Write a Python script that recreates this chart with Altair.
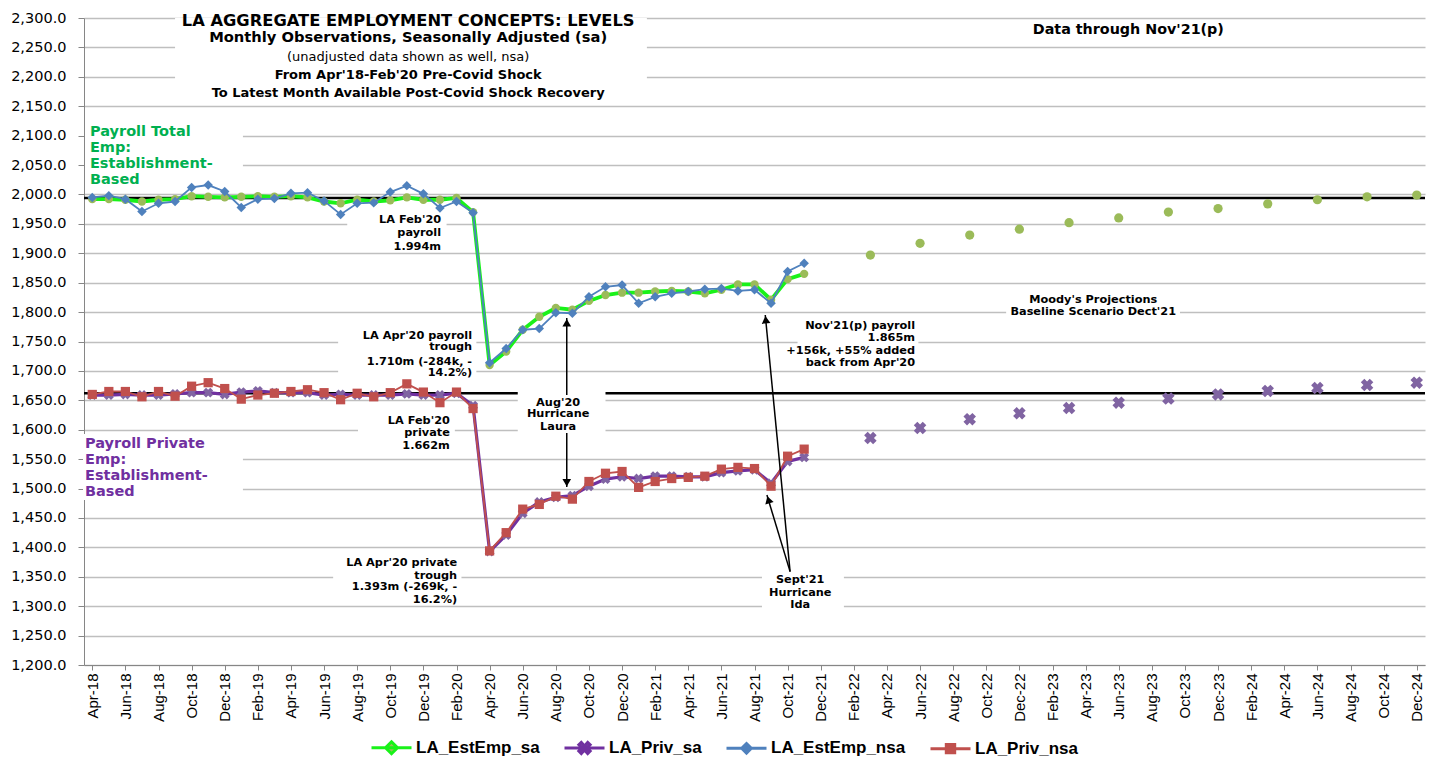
import altair as alt
import pandas as pd

# ---------------- data ----------------
tick_labels = ["Apr-18", "Jun-18", "Aug-18", "Oct-18", "Dec-18", "Feb-19", "Apr-19", "Jun-19",
               "Aug-19", "Oct-19", "Dec-19", "Feb-20", "Apr-20", "Jun-20", "Aug-20", "Oct-20",
               "Dec-20", "Feb-21", "Apr-21", "Jun-21", "Aug-21", "Oct-21", "Dec-21", "Feb-22",
               "Apr-22", "Jun-22", "Aug-22", "Oct-22", "Dec-22", "Feb-23", "Apr-23", "Jun-23",
               "Aug-23", "Oct-23", "Dec-23", "Feb-24", "Apr-24", "Jun-24", "Aug-24", "Oct-24",
               "Dec-24"]
y_ticks = list(range(1200, 2301, 50))

obs_months = [p.strftime("%b-%y") for p in pd.period_range("2018-04", "2021-11", freq="M")]

est_emp_sa = [1992, 1992, 1991, 1988, 1991, 1992, 1997, 1996, 1995, 1996, 1997, 1996,
              1997, 1995, 1988, 1985, 1991, 1988, 1990, 1995, 1991, 1991, 1994, 1970,
              1710, 1733, 1770, 1792, 1807, 1804, 1819, 1829, 1833, 1833, 1835, 1836,
              1835, 1832, 1838, 1847, 1847, 1821, 1856, 1865]
priv_sa = [1659, 1659, 1660, 1659, 1659, 1661, 1663, 1663, 1660, 1664, 1666, 1663,
           1663, 1663, 1659, 1660, 1659, 1659, 1659, 1661, 1659, 1659, 1662, 1641,
           1393, 1421, 1458, 1477, 1485, 1488, 1504, 1516, 1520, 1517, 1521, 1521,
           1520, 1520, 1527, 1530, 1532, 1509, 1546, 1553]
est_emp_nsa = [1995, 1998, 1992, 1971, 1985, 1988, 2012, 2016, 2005, 1978, 1992, 1993,
               2002, 2003, 1989, 1966, 1985, 1986, 2004, 2015, 2001, 1977, 1988, 1969,
               1714, 1738, 1770, 1772, 1799, 1798, 1826, 1843, 1846, 1815, 1826, 1832,
               1835, 1839, 1840, 1836, 1838, 1815, 1869, 1883]
priv_nsa = [1660, 1665, 1665, 1656, 1665, 1657, 1674, 1680, 1670, 1652, 1659, 1662,
            1665, 1668, 1663, 1651, 1662, 1656, 1663, 1678, 1664, 1646, 1664, 1636,
            1394, 1425, 1465, 1473, 1487, 1482, 1512, 1526, 1529, 1502, 1512, 1517,
            1519, 1521, 1533, 1536, 1534, 1504, 1555, 1567]

proj_months = ["Mar-22", "Jun-22", "Sep-22", "Dec-22", "Mar-23", "Jun-23",
               "Sep-23", "Dec-23", "Mar-24", "Jun-24", "Sep-24", "Dec-24"]
est_emp_proj = [1897, 1917, 1931, 1941, 1952, 1960, 1970, 1976, 1984, 1991, 1996, 1999]
priv_proj = [1586, 1603, 1618, 1628, 1637, 1646, 1653, 1660, 1666, 1671, 1676, 1680]

ref_levels = [1994, 1662]

series_names = ["LA_EstEmp_sa", "LA_Priv_sa", "LA_EstEmp_nsa", "LA_Priv_nsa"]

# ---------------- helpers ----------------
start = pd.Period("2018-04", freq="M")


def midx(label):
    p = pd.Period(pd.to_datetime(label, format="%b-%y"), freq="M")
    return (p - start).n


def sdf(months, values):
    return pd.DataFrame({"idx": [midx(m) for m in months], "value": values})


label_expr = "[" + ",".join("'%s'" % t for t in tick_labels) + "][datum.value / 2]"

X = alt.X("idx:Q",
          scale=alt.Scale(domain=[-0.5, 80.5], nice=False, zero=False),
          axis=alt.Axis(values=list(range(0, 81, 2)), labelExpr=label_expr, labelAngle=270,
                        labelFont="Liberation Sans", labelFontSize=15, labelColor="black",
                        tickSize=5, tickColor="#868686", domainColor="#868686", grid=False,
                        labelPadding=3, labelOverlap=False, labelFlush=False),
          title=None)
Y = alt.Y("value:Q",
          scale=alt.Scale(domain=[1200, 2300], nice=False, zero=False),
          axis=alt.Axis(values=y_ticks, format=",.1f", labelFont="DejaVu Sans",
                        labelFontSize=14.5, labelColor="black", tickSize=6,
                        tickColor="#868686", domainColor="#868686", gridColor="#BFBFBF",
                        gridWidth=1.3, labelPadding=12, labelFlush=False),
          title=None)

# ---------------- annotation layout (data coordinates) ----------------
boxes = pd.DataFrame({
    "idx":    [5.0, -0.44, -0.56, 15.4, 14.85, 16.05, 14.55, 25.7, 40.45, 42.6, 55.2],
    "idx2":   [33.5, 9.1, 9.1, 21.4, 23.2, 21.9, 22.3, 31.0, 45.4, 49.9, 65.7],
    "value":  [2300, 2123, 1592.7, 1970, 1771.3, 1628.5, 1395.5, 1669, 1358, 1790, 1834],
    "value2": [2160.6, 2011, 1480.5, 1905.6, 1688, 1562, 1303.7, 1594.5, 1292, 1705, 1790],
})

center_bold = pd.DataFrame([
    ("LA AGGREGATE EMPLOYMENT CONCEPTS: LEVELS", 19.08, 2295.4, 16.3),
    ("Monthly Observations, Seasonally Adjusted (sa)", 19.08, 2266.5, 14.7),
    ("From Apr'18-Feb'20 Pre-Covid Shock", 19.08, 2203.6, 13),
    ("To Latest Month Available Post-Covid Shock Recovery", 19.08, 2173.0, 13),
    ("Data through Nov'21(p)", 62.58, 2279.6, 14.3),
    ("Aug'20", 28.14, 1646, 11.3),
    ("Hurricane", 28.14, 1626.3, 11.3),
    ("Laura", 28.14, 1605.2, 11.3),
    ("Sept'21", 42.76, 1344.5, 11.3),
    ("Hurricane", 42.76, 1323, 11.3),
    ("Ida", 42.76, 1302, 11.3),
    ("Moody's Projections", 60.46, 1820.6, 11.3),
    ("Baseline Scenario Dect'21", 60.46, 1800.2, 11.3),
], columns=["text", "idx", "value", "fs"])

center_normal = pd.DataFrame([
    ("(unadjusted data shown as well, nsa)", 19.08, 2233.7, 13),
], columns=["text", "idx", "value", "fs"])

right_bold = pd.DataFrame([
    ("LA Feb'20", 21.07, 1956.6), ("payroll", 21.07, 1934.5), ("1.994m", 21.07, 1910.7),
    ("LA Apr'20 payroll", 22.94, 1759.4), ("trough", 22.94, 1740.5),
    ("1.710m (-284k, -", 22.94, 1715.7), ("14.2%)", 22.94, 1697),
    ("LA Feb'20", 21.6, 1615.4), ("private", 21.6, 1594.3), ("1.662m", 21.6, 1573),
    ("LA Apr'20 private", 22.04, 1372.9), ("trough", 22.04, 1351.4),
    ("1.393m (-269k, -", 22.04, 1332.2), ("16.2%)", 22.04, 1310.5),
    ("Nov'21(p) payroll", 49.7, 1776.4), ("1.865m", 49.7, 1755.5),
    ("+156k, +55% added", 49.7, 1733.9), ("back from Apr'20", 49.7, 1714),
], columns=["text", "idx", "value"])

left_bold = pd.DataFrame([
    ("Payroll Total", -0.14, 2106, "#00B050"), ("Emp:", -0.14, 2078.5, "#00B050"),
    ("Establishment-", -0.14, 2051.3, "#00B050"), ("Based", -0.14, 2024.5, "#00B050"),
    ("Payroll Private", -0.44, 1575.8, "#7030A0"), ("Emp:", -0.44, 1548.6, "#7030A0"),
    ("Establishment-", -0.44, 1521.4, "#7030A0"), ("Based", -0.44, 1494.2, "#7030A0"),
], columns=["text", "idx", "value", "col"])

arrows = pd.DataFrame({
    "idx":    [28.66, 28.66, 42.15, 42.15],
    "value":  [1659, 1594.5, 1358.7, 1358.7],
    "idx2":   [28.66, 28.66, 40.65, 40.75],
    "value2": [1790, 1502.6, 1795, 1489],
})
heads = pd.DataFrame({
    "idx":   [28.66, 28.66, 40.68, 40.84],
    "value": [1782, 1510, 1787, 1481],
    "ang":   [0, 180, 354.4, 343.1],
})

# ---------------- layers ----------------
layers = []

layers.append(alt.Chart(pd.DataFrame({"value": ref_levels})).mark_rule(
    color="black", strokeWidth=2.3).encode(y=Y))

layers.append(alt.Chart(boxes).mark_rect(fill="white", stroke="white", strokeWidth=0).encode(
    x=X, x2="idx2:Q", y=Y, y2="value2:Q"))

d_est_sa = sdf(obs_months, est_emp_sa)
d_priv_sa = sdf(obs_months, priv_sa)
d_est_nsa = sdf(obs_months, est_emp_nsa)
d_priv_nsa = sdf(obs_months, priv_nsa)

layers.append(alt.Chart(d_est_sa).mark_line(color="#19F219", strokeWidth=3.8).encode(x=X, y=Y))
layers.append(alt.Chart(d_est_sa).mark_point(shape="circle", filled=True, size=70,
                                             color="#9BBB59", opacity=1).encode(x=X, y=Y))
layers.append(alt.Chart(d_priv_sa).mark_line(color="#7030A0", strokeWidth=3.2).encode(x=X, y=Y))
layers.append(alt.Chart(d_priv_sa).mark_point(shape="cross", angle=45, filled=True, size=100,
                                              color="#8064A2", opacity=1).encode(x=X, y=Y))
layers.append(alt.Chart(d_est_nsa).mark_line(color="#4F81BD", strokeWidth=1.8).encode(x=X, y=Y))
layers.append(alt.Chart(d_est_nsa).mark_point(shape="diamond", filled=True, size=90,
                                              color="#4F81BD", opacity=1).encode(x=X, y=Y))
layers.append(alt.Chart(d_priv_nsa).mark_line(color="#C0504D", strokeWidth=1.8).encode(x=X, y=Y))
layers.append(alt.Chart(d_priv_nsa).mark_point(shape="square", filled=True, size=85,
                                               color="#C0504D", opacity=1).encode(x=X, y=Y))

layers.append(alt.Chart(sdf(proj_months, est_emp_proj)).mark_point(
    shape="circle", filled=True, size=85, color="#9BBB59", opacity=1).encode(x=X, y=Y))
layers.append(alt.Chart(sdf(proj_months, priv_proj)).mark_point(
    shape="cross", angle=45, filled=True, size=160, color="#8064A2", opacity=1).encode(x=X, y=Y))

# arrows
layers.append(alt.Chart(arrows).mark_rule(color="black", strokeWidth=1.5).encode(
    x=X, x2="idx2:Q", y=Y, y2="value2:Q"))
layers.append(alt.Chart(heads).mark_point(shape="triangle-up", filled=True, size=75,
                                          color="black", opacity=1).encode(
    x=X, y=Y, angle=alt.Angle("ang:Q", scale=None)))

# text
layers.append(alt.Chart(center_bold).mark_text(
    align="center", baseline="middle", font="DejaVu Sans", fontWeight="bold", color="black").encode(
    x=X, y=Y, text="text:N", size=alt.Size("fs:Q", scale=None)))
layers.append(alt.Chart(center_normal).mark_text(
    align="center", baseline="middle", font="DejaVu Sans", color="black").encode(
    x=X, y=Y, text="text:N", size=alt.Size("fs:Q", scale=None)))
layers.append(alt.Chart(right_bold).mark_text(
    align="right", baseline="middle", font="DejaVu Sans", fontWeight="bold", fontSize=11.3,
    color="black").encode(x=X, y=Y, text="text:N"))
layers.append(alt.Chart(left_bold).mark_text(
    align="left", baseline="middle", font="DejaVu Sans", fontWeight="bold", fontSize=14.5).encode(
    x=X, y=Y, text="text:N", color=alt.Color("col:N", scale=None)))

# legend (drawn from an off-domain, clipped layer)
legend_paths = [
    "M-1,0L1,0M0,-0.3L0.3,0L0,0.3L-0.3,0Z",
    "M-1,0L1,0M0,-0.1L0.16,-0.28L0.28,-0.16L0.1,0L0.28,0.16L0.16,0.28L0,0.1L-0.16,0.28L-0.28,0.16L-0.1,0L-0.28,-0.16L-0.16,-0.28Z",
    "M-1,0L1,0M0,-0.24L0.24,0L0,0.24L-0.24,0Z",
    "M-1,0L1,0M-0.21,-0.21L0.21,-0.21L0.21,0.21L-0.21,0.21Z",
]
leg = alt.Legend(orient="none", legendX=286, legendY=708, direction="horizontal",
                 symbolSize=1600, labelFont="Liberation Sans", labelFontSize=17,
                 labelFontWeight="bold", labelColor="black", columnPadding=18,
                 labelOffset=3, padding=0, symbolOpacity=1)
legend_df = pd.DataFrame({"series": series_names, "idx": [0] * 4, "value": [1000] * 4})
layers.append(alt.Chart(legend_df).mark_point(filled=True, opacity=1, clip=True).encode(
    x=X, y=Y,
    fill=alt.Fill("series:N", scale=alt.Scale(domain=series_names,
                  range=["#9BBB59", "#8064A2", "#4F81BD", "#C0504D"]), legend=leg, title=None),
    stroke=alt.Stroke("series:N", scale=alt.Scale(domain=series_names,
                      range=["#19F219", "#7030A0", "#4F81BD", "#C0504D"]), legend=leg, title=None),
    shape=alt.Shape("series:N", scale=alt.Scale(domain=series_names, range=legend_paths),
                    legend=leg, title=None),
    strokeWidth=alt.StrokeWidth("series:N", scale=alt.Scale(domain=series_names,
                                range=[3, 3, 1.6, 1.6]), legend=leg, title=None),
))

chart = alt.layer(*layers).properties(
    width=1341, height=647,
    autosize=alt.AutoSizeParams(type="none"),
    padding={"left": 76, "top": 10, "right": 5, "bottom": 95},
    background="white",
).configure_view(stroke="transparent")

chart.save("out.html", embed_options={"renderer": "svg", "actions": False})
